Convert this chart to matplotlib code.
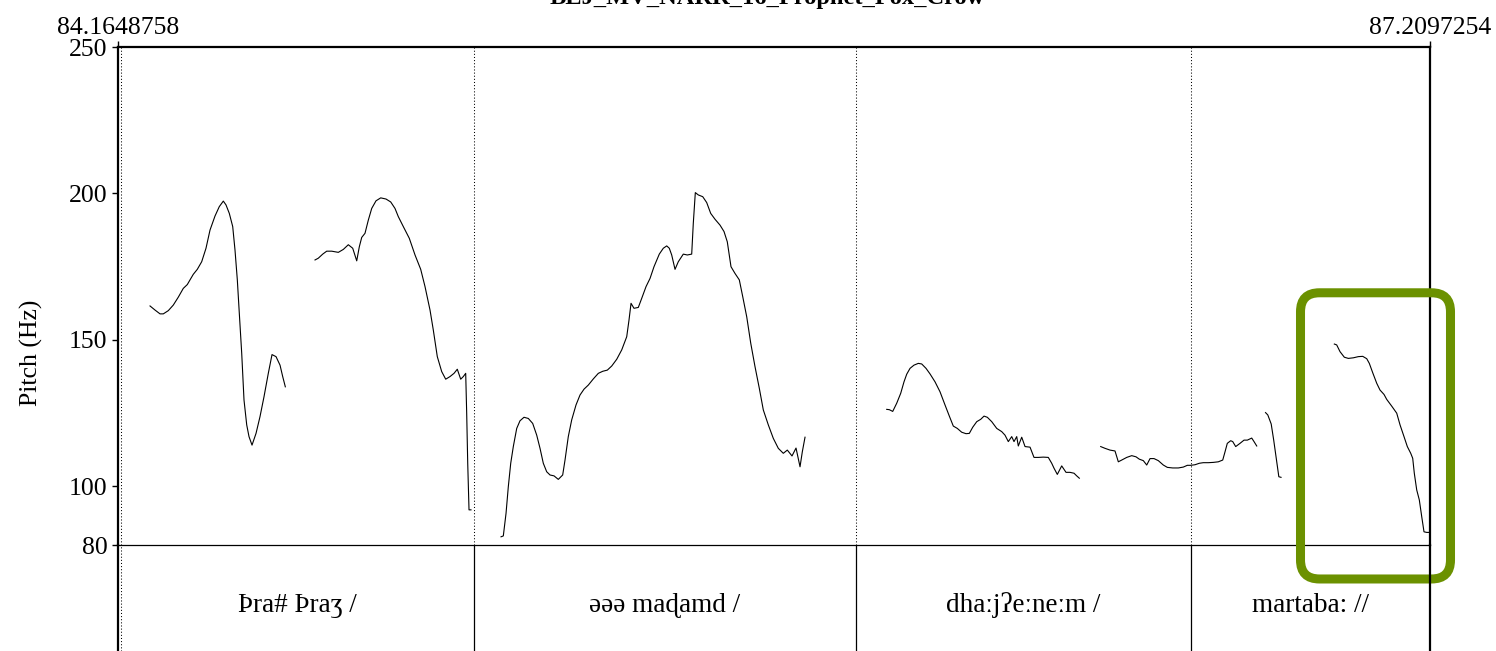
import matplotlib
matplotlib.use('Agg')
import matplotlib.pyplot as plt
from matplotlib.patches import FancyBboxPatch

plt.rcParams['font.family'] = ['Liberation Serif', 'DejaVu Serif']

# ---- data (time in s, F0 in Hz) ----
title = 'BEJ_MV_NARR_16_Prophet_Fox_Crow'
t_start = 84.1648758
t_end = 87.2097254
f_min, f_max = 80, 250
y_ticks = [80, 100, 150, 200, 250]

c1_time = [84.2392, 84.2508, 84.2624, 84.2700, 84.2816, 84.2932, 84.3048, 84.3164, 84.3257, 84.3320,
           84.3396, 84.3489, 84.3591, 84.3691, 84.3784, 84.3900, 84.3999, 84.4093, 84.4155, 84.4232,
           84.4311, 84.4364, 84.4418, 84.4464, 84.4520, 84.4573, 84.4636, 84.4689, 84.4759, 84.4852,
           84.4944, 84.5037, 84.5137, 84.5223, 84.5316, 84.5409, 84.5471, 84.5532]
c1_hz = [161.6, 160.2, 158.9, 158.9, 160.0, 161.9, 164.6, 167.6, 168.9, 170.5,
         172.4, 174.1, 176.7, 181.3, 187.5, 192.3, 195.5, 197.4, 196.1, 193.2,
         188.7, 180.7, 170.5, 159.1, 145.4, 129.5, 121.0, 117.0, 114.1, 118.1,
         123.8, 130.6, 138.6, 145.0, 144.3, 141.4, 137.5, 134.0]

c2_time = [84.6221, 84.6297, 84.6400, 84.6492, 84.6608, 84.6762, 84.6878, 84.6994, 84.7096, 84.7189,
           84.7249, 84.7305, 84.7381, 84.7458, 84.7537, 84.7637, 84.7746, 84.7869, 84.7978, 84.8077,
           84.8154, 84.8270, 84.8409, 84.8542, 84.8674, 84.8774, 84.8890, 84.8966, 84.9059, 84.9161,
           84.9254, 84.9354, 84.9447, 84.9523, 84.9602, 84.9663, 84.9718, 84.9741, 84.9765, 84.9795,
           84.9841]
c2_hz = [177.3, 177.9, 179.3, 180.3, 180.3, 179.9, 180.9, 182.5, 181.3, 177.0,
         181.8, 185.0, 186.4, 190.9, 194.9, 197.5, 198.5, 198.1, 197.1, 194.9,
         192.1, 188.7, 184.7, 179.0, 174.1, 168.2, 160.2, 153.4, 144.3, 139.2,
         136.6, 137.5, 138.6, 140.0, 136.6, 137.5, 138.6, 125.0, 107.9, 92.0,
         92.0]

c3_time = [85.0538, 85.0591, 85.0654, 85.0707, 85.0763, 85.0823, 85.0902, 85.0978, 85.1071, 85.1171,
           85.1273, 85.1366, 85.1443, 85.1519, 85.1598, 85.1675, 85.1768, 85.1867, 85.1969, 85.2023,
           85.2099, 85.2178, 85.2278, 85.2371, 85.2464, 85.2564, 85.2680, 85.2796, 85.2898, 85.3005,
           85.3107, 85.3223, 85.3339, 85.3455, 85.3508, 85.3555, 85.3624, 85.3724, 85.3803, 85.3903,
           85.3996, 85.4088, 85.4211, 85.4304, 85.4383, 85.4443, 85.4499, 85.4576, 85.4652, 85.4768,
           85.4861, 85.4963, 85.5000, 85.5047, 85.5116, 85.5219, 85.5311, 85.5404, 85.5504, 85.5620,
           85.5713, 85.5789, 85.5875, 85.5968, 85.6068, 85.6147, 85.6240, 85.6333, 85.6432, 85.6532,
           85.6625, 85.6741, 85.6857, 85.6973, 85.7089, 85.7182, 85.7291, 85.7384, 85.7477, 85.7530,
           85.7593]
c3_hz = [82.8, 83.1, 90.8, 99.9, 107.9, 113.6, 119.8, 122.4, 123.6, 123.2,
         121.5, 117.5, 113.0, 107.9, 105.0, 103.9, 103.6, 102.4, 103.9, 109.0,
         117.0, 122.7, 127.8, 131.2, 133.2, 134.6, 136.7, 138.6, 139.3, 139.7,
         141.1, 143.4, 146.6, 151.1, 156.8, 162.5, 160.8, 161.1, 164.2, 168.2,
         171.0, 175.0, 179.3, 181.3, 182.1, 181.3, 179.0, 174.1, 176.7, 179.3,
         179.0, 179.3, 189.8, 200.3, 199.5, 198.9, 196.9, 193.2, 191.2, 189.2,
         187.0, 183.5, 175.0, 172.7, 170.5, 164.8, 157.9, 148.9, 140.9, 133.5,
         126.1, 121.0, 116.4, 113.0, 111.3, 112.4, 110.4, 113.1, 106.7, 111.8,
         116.8]

c4_time = [85.9489, 85.9549, 85.9628, 85.9721, 85.9814, 85.9890, 85.9953, 86.0030, 86.0122, 86.0222,
           86.0301, 86.0401, 86.0494, 86.0610, 86.0726, 86.0842, 86.0942, 86.1034, 86.1127, 86.1229,
           86.1329, 86.1406, 86.1485, 86.1578, 86.1670, 86.1747, 86.1824, 86.1926, 86.2042, 86.2158,
           86.2234, 86.2311, 86.2390, 86.2443, 86.2506, 86.2543, 86.2622, 86.2699, 86.2815, 86.2907,
           86.3007, 86.3123, 86.3239, 86.3318, 86.3372, 86.3448, 86.3550, 86.3650, 86.3743, 86.3836,
           86.3898, 86.3959]
c4_hz = [126.3, 126.2, 125.6, 128.4, 131.8, 135.7, 138.3, 140.3, 141.4, 142.0,
         141.8, 140.3, 138.4, 135.7, 132.3, 127.8, 124.0, 120.6, 119.8, 118.5,
         118.0, 118.1, 120.2, 122.1, 122.9, 124.0, 123.6, 122.1, 119.8, 118.7,
         117.5, 115.3, 117.0, 115.3, 117.0, 113.8, 116.8, 113.6, 113.4, 109.9,
         109.9, 110.0, 109.9, 107.9, 106.2, 104.1, 107.0, 104.8, 104.8, 104.5,
         103.6, 102.8]

c5_time = [86.4455, 86.4555, 86.4671, 86.4787, 86.4864, 86.4943, 86.5059, 86.5175, 86.5275, 86.5351,
           86.5444, 86.5523, 86.5600, 86.5692, 86.5792, 86.5908, 86.6001, 86.6126, 86.6256, 86.6372,
           86.6465, 86.6544, 86.6644, 86.6744, 86.6836, 86.6953, 86.7069, 86.7185, 86.7287, 86.7340,
           86.7393, 86.7472, 86.7519, 86.7588, 86.7688, 86.7781, 86.7858, 86.7960, 86.8013, 86.8076]
c5_hz = [113.6, 113.0, 112.4, 112.1, 108.4, 109.0, 109.9, 110.5, 110.1, 109.3,
         108.8, 107.3, 109.5, 109.5, 108.8, 107.3, 106.5, 106.3, 106.3, 106.6,
         107.2, 107.2, 107.4, 107.9, 108.1, 108.1, 108.2, 108.4, 109.0, 111.8,
         114.7, 115.6, 115.3, 113.6, 114.7, 115.8, 115.8, 116.5, 115.3, 113.8]

c6_time = [86.8280, 86.8333, 86.8412, 86.8470, 86.8531, 86.8589, 86.8640]
c6_hz = [125.2, 124.4, 121.3, 115.8, 109.4, 103.3, 103.1]

c7_time = [86.9877, 86.9932, 87.0009, 87.0109, 87.0202, 87.0318, 87.0434, 87.0536, 87.0629, 87.0689,
           87.0768, 87.0861, 87.0937, 87.1030, 87.1093, 87.1209, 87.1325, 87.1402, 87.1494, 87.1571,
           87.1650, 87.1696, 87.1733, 87.1789, 87.1849, 87.1905, 87.1958, 87.2021, 87.2075]
c7_hz = [148.6, 148.3, 146.0, 144.1, 143.7, 143.9, 144.3, 144.4, 143.6, 142.0,
         138.8, 135.2, 132.9, 131.4, 129.7, 127.4, 125.0, 121.0, 117.0, 113.6,
         111.3, 109.6, 104.5, 98.8, 95.4, 89.7, 84.5, 84.3, 84.3]

# text tier
boundaries = [84.1718, 84.9911, 85.8776, 86.6551]
tier_labels = ['Þra# Þraʒ /', 'əəə maɖamd /', 'dhaːjʔeːneːm /', 'martaba: //']

# highlighted region (time, Hz)
box_time = (86.9092, 87.2573)
box_hz = (68.4, 166.1)

contours = [(c1_time, c1_hz), (c2_time, c2_hz), (c3_time, c3_hz), (c4_time, c4_hz),
            (c5_time, c5_hz), (c6_time, c6_hz), (c7_time, c7_hz)]

# ---- figure ----
W, H = 1496, 651
fig = plt.figure(figsize=(W / 100, H / 100), dpi=100)
ax_l, ax_r, ax_top, ax_bot = 118, 1430, 47, 545
ax = fig.add_axes([ax_l / W, 1 - ax_bot / H, (ax_r - ax_l) / W, (ax_bot - ax_top) / H])
tier = fig.add_axes([ax_l / W, 0, (ax_r - ax_l) / W, (H - ax_bot) / H])
tier.patch.set_visible(False)

dotted = (0, (1, 2))
fs = 18.5

for t, f in contours:
    ax.plot(t, f, color='black', lw=0.8)

for b in boundaries:
    ax.axvline(b, color='black', lw=0.75, ls=dotted)

ax.set_xlim(t_start, t_end)
ax.set_ylim(f_min, f_max)
ax.set_yticks(y_ticks)
ax.set_yticklabels([str(v) for v in y_ticks])
ax.tick_params(axis='y', direction='out', length=4.5, width=1, labelsize=fs, pad=3)
ax.xaxis.tick_top()
ax.set_xticks([t_start, t_end])
ax.set_xticklabels(['%.7f' % t_start, '%.7f' % t_end])
ax.tick_params(axis='x', direction='out', length=4.5, width=1, labelsize=fs, pad=1.5)
for s in ['left', 'top', 'right']:
    ax.spines[s].set_linewidth(1.6)
ax.spines['bottom'].set_linewidth(0.9)
ax.set_ylabel('Pitch (Hz)', fontsize=fs)
ax.yaxis.set_label_coords(-0.057, 0.385)

# tier
tier.set_xlim(t_start, t_end)
tier.set_ylim(0, 1)
tier.set_xticks([])
tier.set_yticks([])
for s in ['top', 'bottom']:
    tier.spines[s].set_visible(False)
for s in ['left', 'right']:
    tier.spines[s].set_linewidth(1.6)
tier.axvline(boundaries[0], color='black', lw=0.75, ls=dotted)
for b in boundaries[1:]:
    tier.axvline(b, color='black', lw=0.9)
edges = boundaries + [t_end]
for i, lab in enumerate(tier_labels):
    mid = (edges[i] + edges[i + 1]) / 2
    tier.text(mid, 0.43, lab, ha='center', va='center', fontsize=19.5)

# title (partly outside the canvas)
fig.text(767 / W, 1 - 4 / H, title, ha='center', va='baseline', fontsize=17.6, fontweight='bold')

# rounded highlight box, corners kept circular in pixels
x_per_px = (t_end - t_start) / (ax_r - ax_l)
y_per_px = (f_max - f_min) / (ax_bot - ax_top)
box = FancyBboxPatch((box_time[0], box_hz[0]), box_time[1] - box_time[0], box_hz[1] - box_hz[0],
                     boxstyle='round,pad=0,rounding_size=%f' % (19 * x_per_px),
                     mutation_aspect=y_per_px / x_per_px,
                     fill=False, ec='#6b9100', lw=6.5, clip_on=False, zorder=5,
                     transform=ax.transData)
ax.add_patch(box)

fig.savefig('out.png', dpi=100)
